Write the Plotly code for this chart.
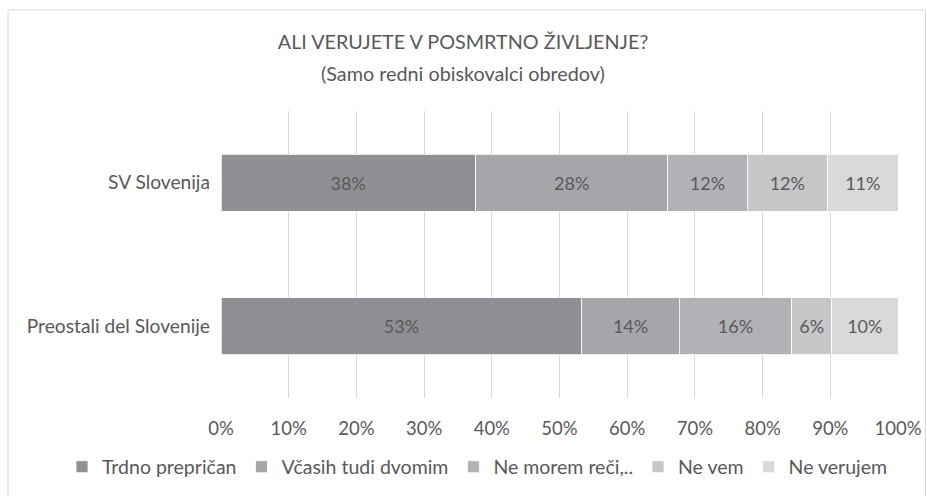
import plotly.graph_objects as go

categories = ["Preostali del Slovenije", "SV Slovenija"]
series_names = ["Trdno prepričan", "Včasih tudi dvomim", "Ne morem reči,..", "Ne vem", "Ne verujem"]
values_preostali = [53.3, 14.4, 16.6, 5.9, 9.8]
values_sv = [37.6, 28.4, 11.7, 11.9, 10.4]
labels_preostali = ["53%", "14%", "16%", "6%", "10%"]
labels_sv = ["38%", "28%", "12%", "12%", "11%"]
colors = ["#8f9093", "#a5a6a9", "#b1b2b5", "#c6c7c9", "#d9d9da"]
tick_vals = [0, 10, 20, 30, 40, 50, 60, 70, 80, 90, 100]
tick_text = ["0%", "10%", "20%", "30%", "40%", "50%", "60%", "70%", "80%", "90%", "100%"]
title_line1 = "ALI VERUJETE V POSMRTNO ŽIVLJENJE?"
title_line2 = "(Samo redni obiskovalci obredov)"

FONT = "Lato"
TXT = "#595959"
FS = 18

fig = go.Figure()
for i, name in enumerate(series_names):
    fig.add_trace(go.Bar(
        y=categories,
        x=[values_preostali[i], values_sv[i]],
        text=[labels_preostali[i], labels_sv[i]],
        name=name,
        orientation="h",
        marker=dict(color=colors[i], line=dict(color="white", width=0.8)),
        textposition="inside",
        insidetextanchor="middle",
        textangle=0,
        textfont=dict(family=FONT, size=FS, color=TXT),
        hoverinfo="skip",
    ))

PL, PR, PT, PB = 221, 898, 111, 398
PW, PH = PR - PL, PB - PT

fig.update_layout(
    barmode="stack",
    bargap=0.6,
    width=927,
    height=496,
    margin=dict(l=PL, r=927 - PR, t=PT, b=496 - PB, autoexpand=False),
    paper_bgcolor="white",
    plot_bgcolor="white",
    title=dict(
        text=title_line1,
        x=(463 - PL) / PW, xanchor="center", xref="paper",
        y=1 - 42 / 496, yanchor="middle", yref="container",
        font=dict(family=FONT, size=19.8, color=TXT),
    ),
    annotations=[dict(
        text=title_line2, showarrow=False,
        x=(463 - PL) / PW, xanchor="center", xref="paper",
        y=1 + (PT - 73) / PH, yanchor="middle", yref="paper",
        font=dict(family=FONT, size=19.8, color=TXT),
    )],
    xaxis=dict(
        range=[0, 100],
        tickvals=tick_vals,
        ticktext=tick_text,
        showgrid=True,
        gridcolor="#d9d9d9",
        gridwidth=1,
        zeroline=False,
        showline=False,
        ticks="",
        tickfont=dict(family=FONT, size=18.5, color=TXT),
        ticklabelstandoff=17,
    ),
    yaxis=dict(
        showgrid=False,
        zeroline=False,
        ticks="",
        tickfont=dict(family=FONT, size=19.2, color=TXT),
        ticklabelstandoff=10,
    ),
    legend=dict(
        orientation="h",
        x=(62 - PL) / PW, xanchor="left", xref="paper",
        y=(PB - 467) / PH, yanchor="middle", yref="paper",
        traceorder="normal",
        font=dict(family=FONT, size=19.5, color=TXT),
        itemwidth=30,
        tracegroupgap=0,
    ),
    shapes=[dict(
        type="rect", xref="paper", yref="paper",
        x0=(8 - PL) / PW, x1=(925.5 - PL) / PW,
        y0=-0.5, y1=1 + (PT - 10) / PH,
        line=dict(color="#d9d9d9", width=1),
        fillcolor="rgba(0,0,0,0)",
        layer="below",
    )],
)

fig.write_html(
    "out.html",
    config={"displayModeBar": False},
    post_script="document.body.style.margin='0';document.body.style.overflow='hidden';",
)
